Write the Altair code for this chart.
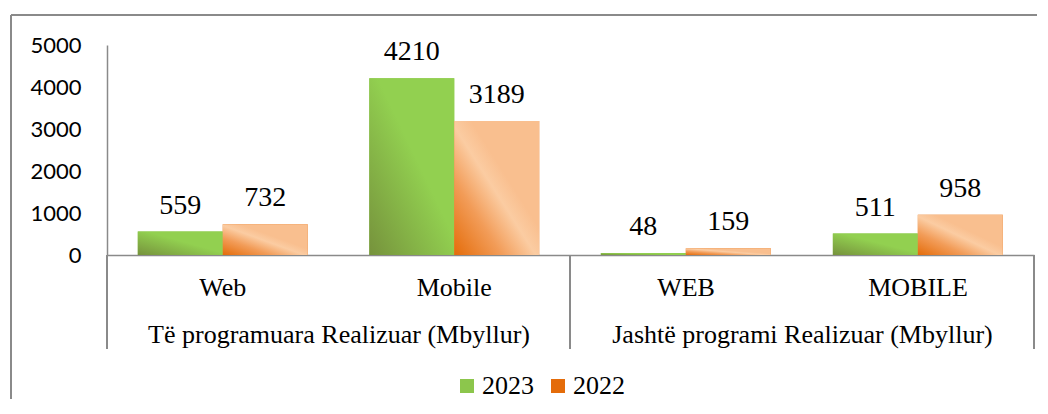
import altair as alt
import pandas as pd

groups = ["Të programuara Realizuar (Mbyllur)", "Jashtë programi Realizuar (Mbyllur)"]
group_of = [groups[0], groups[0], groups[1], groups[1]]
subcats = ["Web", "Mobile", "WEB", "MOBILE"]
series = ["2023", "2022"]
v2023 = [559, 4210, 48, 511]
v2022 = [732, 3189, 159, 958]
y_ticks = [0, 1000, 2000, 3000, 4000, 5000]

rows = []
for g, c, a, b in zip(group_of, subcats, v2023, v2022):
    rows.append({"group": g, "cat": c, "series": series[0], "value": a})
    rows.append({"group": g, "cat": c, "series": series[1], "value": b})
df = pd.DataFrame(rows)

green_grad = alt.LinearGradient(
    gradient="linear", x1=0, y1=1, x2=1, y2=0,
    stops=[alt.GradientStop(color="#76923C", offset=0),
           alt.GradientStop(color="#92D050", offset=0.55),
           alt.GradientStop(color="#92D050", offset=1)])
orange_grad = alt.LinearGradient(
    gradient="linear", x1=0, y1=1, x2=1, y2=0,
    stops=[alt.GradientStop(color="#E46C0A", offset=0),
           alt.GradientStop(color="#F29C58", offset=0.28),
           alt.GradientStop(color="#FBCCA2", offset=0.48),
           alt.GradientStop(color="#F9BF8F", offset=0.6),
           alt.GradientStop(color="#F9BF8F", offset=1)])

PLOT_H = 210
GRAY = "#8A8A8A"
SERIF = "Liberation Serif"

color_enc = alt.Color(
    "series:N", sort=series,
    scale=alt.Scale(domain=series, range=["#8CC64C", "#E46C0A"]),
    legend=alt.Legend(orient="none", legendX=347, legendY=328, direction="horizontal",
                      title=None, symbolType="square", symbolSize=196, symbolStrokeWidth=0,
                      labelFont=SERIF, labelFontSize=26, labelColor="black",
                      columnPadding=11, labelOffset=2, padding=0))


def panel(gname, width, first):
    d = df[df.group == gname]
    cats = [c for g, c in zip(group_of, subcats) if g == gname]
    x = alt.X("cat:N", sort=cats,
              scale=alt.Scale(paddingInner=0.266, paddingOuter=0.133, align=0.5),
              axis=alt.Axis(title=gname, labelAngle=0, labelFont=SERIF, labelFontSize=26,
                            labelColor="black", labelPadding=40, labelBaseline="alphabetic",
                            ticks=False, tickSize=0, domainColor=GRAY, domainWidth=1.5,
                            titleFont=SERIF, titleFontSize=26, titleFontWeight="normal",
                            titleColor="black", titleY=87, titleBaseline="alphabetic"))
    xo = alt.XOffset("series:N", sort=series,
                     scale=alt.Scale(domain=series, paddingInner=0, paddingOuter=0))
    if first:
        yaxis = alt.Axis(values=y_ticks, format="d", title=None, grid=False, ticks=False,
                         tickSize=0, labelFont="Lato", labelFontSize=22, labelColor="black",
                         labelPadding=26, domainColor=GRAY, domainWidth=1.5)
    else:
        yaxis = None
    y = alt.Y("value:Q", scale=alt.Scale(domain=[0, 5000], nice=False), axis=yaxis)

    base = alt.Chart(d)
    flat = base.mark_bar().encode(x=x, xOffset=xo, y=y, color=color_enc)
    g23 = base.transform_filter(alt.datum.series == series[0]).mark_bar(color=green_grad).encode(
        x=x, xOffset=xo, y=y)
    g22 = base.transform_filter(alt.datum.series == series[1]).mark_bar(color=orange_grad).encode(
        x=x, xOffset=xo, y=y)
    txt = base.mark_text(dy=-18, baseline="alphabetic", font=SERIF, fontSize=28,
                         color="black").encode(x=x, xOffset=xo, y=y, text="value:Q")
    layers = [flat, g23, g22, txt]
    sep = base.mark_rule(color=GRAY, strokeWidth=1.5)
    layers.append(sep.encode(x=alt.value(0), y=alt.value(PLOT_H), y2=alt.value(PLOT_H + 94)))
    if not first:
        layers.append(sep.encode(x=alt.value(width), y=alt.value(PLOT_H), y2=alt.value(PLOT_H + 94)))
    if first:
        border = base.mark_rule(color=GRAY, strokeWidth=1.5)
        layers.append(border.encode(x=alt.value(-96), y=alt.value(-30), y2=alt.value(354)))
        layers.append(border.encode(x=alt.value(-96), x2=alt.value(930), y=alt.value(-30)))
    return alt.layer(*layers).properties(width=width, height=PLOT_H)


chart = alt.hconcat(
    panel(groups[0], 463, True),
    panel(groups[1], 464, False),
    spacing=0, bounds="flush",
).resolve_scale(color="shared").properties(
    padding={"left": 2, "top": 6, "right": 0, "bottom": 0}
).configure_view(strokeWidth=0).configure_legend(
    labelFont=SERIF, labelFontSize=26, labelColor="black"
)

chart.save("out.html", embed_options={"renderer": "svg", "actions": False})
